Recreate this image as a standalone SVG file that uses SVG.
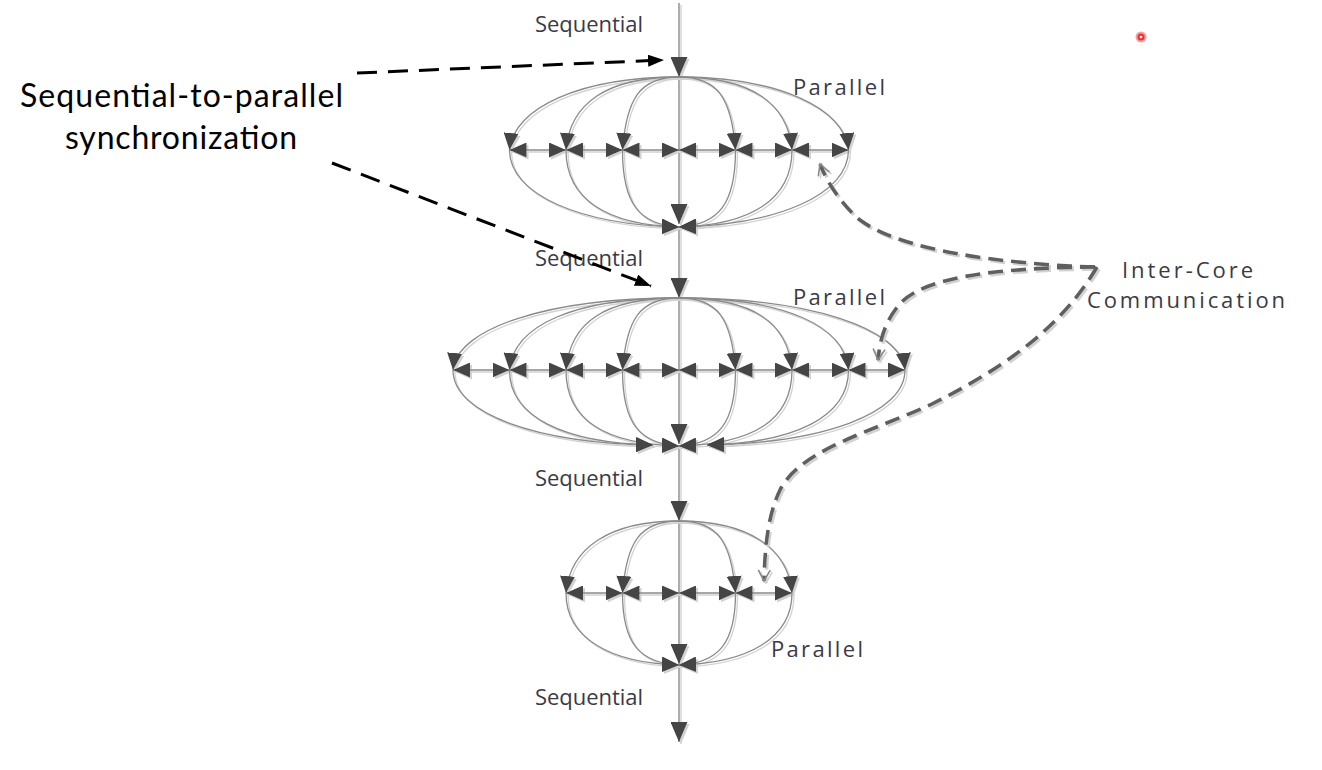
<svg xmlns="http://www.w3.org/2000/svg" width="1322" height="770" viewBox="0 0 1322 770">
<defs>
<style>
.sp{fill:none;stroke:#8a8a8a;stroke-width:1.4;marker-end:url(#sh-ah)}
.arc{fill:none;stroke:#8a8a8a;stroke-width:1.3;marker-end:url(#ah)}
.lo{fill:none;stroke:#8a8a8a;stroke-width:1.3;marker-end:url(#ah)}
.bi{fill:none;stroke:#8a8a8a;stroke-width:1.3;marker-start:url(#ah);marker-end:url(#ah)}
.lbl{font-family:"Open Sans","DejaVu Sans",sans-serif;font-size:22px;fill:#3a3a46}
.ic{font-family:"Open Sans","DejaVu Sans",sans-serif;font-size:22px;fill:#3a3a46}
.big{font-family:Lato,"Open Sans",sans-serif;font-size:32px;fill:#000}
.bd{fill:none;stroke:#000;stroke-width:3;stroke-dasharray:20 11;marker-end:url(#bh)}
.gd{fill:none;stroke:#5f5f5f;stroke-width:3.6;stroke-dasharray:15 8;marker-end:url(#oh)}
</style>
<marker id="ah" viewBox="0 0 17 15" refX="17" refY="7.5" markerWidth="17" markerHeight="15" markerUnits="userSpaceOnUse" orient="auto-start-reverse"><path d="M0,0 L17,7.5 L0,15 z" fill="#444"/></marker>
<marker id="sh-ah" viewBox="0 0 20 17" refX="20" refY="8.5" markerWidth="20" markerHeight="17" markerUnits="userSpaceOnUse" orient="auto"><path d="M0,0 L20,8.5 L0,17 z" fill="#444"/></marker>
<marker id="bh" viewBox="0 0 16 12" refX="16" refY="6" markerWidth="16" markerHeight="12" markerUnits="userSpaceOnUse" orient="auto"><path d="M0,0 L16,6 L0,12 z" fill="#000"/></marker>
<marker id="oh" viewBox="0 0 14 14" refX="12" refY="7" markerWidth="14" markerHeight="14" markerUnits="userSpaceOnUse" orient="auto"><path d="M1,1 L12,7 L1,13" fill="none" stroke="#888" stroke-width="1.6"/></marker>
<filter id="sh" filterUnits="userSpaceOnUse" x="0" y="0" width="1322" height="770"><feOffset in="SourceAlpha" dx="2" dy="2" result="o"/><feFlood flood-color="#d2d2d2"/><feComposite in2="o" operator="in" result="s"/><feMerge><feMergeNode in="s"/><feMergeNode in="SourceGraphic"/></feMerge></filter>
</defs>
<rect width="1322" height="770" fill="#fff"/>

<g id="spine" filter="url(#sh)">
<path class="sp" d="M679,3 V77"/>
<path class="sp" d="M679,77 V224"/>
<path class="sp" d="M679,227 V298"/>
<path class="sp" d="M679,298 V444"/>
<path class="sp" d="M679,446 V521"/>
<path class="sp" d="M679,521 V664"/>
<path class="sp" d="M679,665 V742"/>
</g>

<g id="parallel-1" filter="url(#sh)">
<path class="arc" d="M679,77 C639.45,77 626.5,98.9 622.5,150"/>
<path class="arc" d="M679,77 C606.7,77 570,103.3 566,150"/>
<path class="arc" d="M679,77 C580.7,77 513.5,107.7 509.5,150"/>
<path class="arc" d="M679,77 C718.55,77 731.5,98.9 735.5,150"/>
<path class="arc" d="M679,77 C751.3,77 788,103.3 792,150"/>
<path class="arc" d="M679,77 C777.3,77 844.5,107.7 848.5,150"/>
<path class="lo" d="M622.5,150 C622.5,203.9 639.45,225 679,227"/>
<path class="lo" d="M566,150 C566,199.3 606.7,225 679,227"/>
<path class="lo" d="M509.5,150 C509.5,194.7 580.7,225 679,227"/>
<path class="lo" d="M735.5,150 C735.5,203.9 718.55,225 679,227"/>
<path class="lo" d="M792,150 C792,199.3 751.3,225 679,227"/>
<path class="lo" d="M848.5,150 C848.5,194.7 777.3,225 679,227"/>
<path class="bi" d="M509.5,150 H566"/>
<path class="bi" d="M566,150 H622.5"/>
<path class="bi" d="M622.5,150 H679"/>
<path class="bi" d="M679,150 H735.5"/>
<path class="bi" d="M735.5,150 H792"/>
<path class="bi" d="M792,150 H848.5"/>
</g>

<g id="parallel-2" filter="url(#sh)">
<path class="arc" d="M679,298 C639.45,298 626.5,319.6 622.5,370"/>
<path class="arc" d="M679,298 C604.4,298 570,322.5 566,370"/>
<path class="arc" d="M679,298 C573.9,298 513.5,325.4 509.5,370"/>
<path class="arc" d="M679,298 C547.9,298 457,328.2 453,370"/>
<path class="arc" d="M679,298 C718.55,298 731.5,319.6 735.5,370"/>
<path class="arc" d="M679,298 C753.6,298 788,322.5 792,370"/>
<path class="arc" d="M679,298 C784.1,298 844.5,325.4 848.5,370"/>
<path class="arc" d="M679,298 C810.1,298 901,328.2 905,370"/>
<path class="lo" d="M622.5,370 C622.5,423.2 639.45,444 679,446"/>
<path class="lo" d="M566,370 C566,420.2 604.4,444 679,446"/>
<path class="lo" d="M509.5,370 C509.5,417.1 564,443 653,445"/>
<path class="lo" d="M453,370 C453,414.1 537,443 653,445"/>
<path class="lo" d="M735.5,370 C735.5,423.2 718.55,444 679,446"/>
<path class="lo" d="M792,370 C792,420.2 753.6,444 679,446"/>
<path class="lo" d="M848.5,370 C848.5,417.1 794.7,443 707,445"/>
<path class="lo" d="M905,370 C905,414.1 821.8,443 707,445"/>
<path class="bi" d="M453,370 H509.5"/>
<path class="bi" d="M509.5,370 H566"/>
<path class="bi" d="M566,370 H622.5"/>
<path class="bi" d="M622.5,370 H679"/>
<path class="bi" d="M679,370 H735.5"/>
<path class="bi" d="M735.5,370 H792"/>
<path class="bi" d="M792,370 H848.5"/>
<path class="bi" d="M848.5,370 H905"/>
</g>

<g id="parallel-3" filter="url(#sh)">
<path class="arc" d="M679,521 C639.45,521 626.5,542.6 622.5,593"/>
<path class="arc" d="M679,521 C608.9,521 570,548.4 566,593"/>
<path class="arc" d="M679,521 C718.55,521 731.5,542.6 735.5,593"/>
<path class="arc" d="M679,521 C749.1,521 788,548.4 792,593"/>
<path class="lo" d="M622.5,593 C622.5,643.4 639.45,663 679,665"/>
<path class="lo" d="M566,593 C566,637.6 608.9,663 679,665"/>
<path class="lo" d="M735.5,593 C735.5,643.4 718.55,663 679,665"/>
<path class="lo" d="M792,593 C792,637.6 749.1,663 679,665"/>
<path class="bi" d="M566,593 H622.5"/>
<path class="bi" d="M622.5,593 H679"/>
<path class="bi" d="M679,593 H735.5"/>
<path class="bi" d="M735.5,593 H792"/>
</g>

<g id="labels">
<text class="lbl" x="535" y="32" textLength="108" lengthAdjust="spacing">Sequential</text>
<text class="lbl" x="793" y="95" textLength="92" lengthAdjust="spacing">Parallel</text>
<text class="lbl" x="535" y="266" textLength="108" lengthAdjust="spacing">Sequential</text>
<text class="lbl" x="793" y="305" textLength="92" lengthAdjust="spacing">Parallel</text>
<text class="lbl" x="535" y="486" textLength="108" lengthAdjust="spacing">Sequential</text>
<text class="lbl" x="771" y="657" textLength="92" lengthAdjust="spacing">Parallel</text>
<text class="lbl" x="535" y="705" textLength="108" lengthAdjust="spacing">Sequential</text>
</g>

<g id="sync-label">
<text class="big" x="20" y="107" textLength="323" lengthAdjust="spacing">Sequential-to-parallel</text>
<text class="big" x="65" y="149" textLength="232" lengthAdjust="spacing">synchronization</text>
</g>

<g id="intercore-label">
<text class="ic" x="1122" y="278" textLength="131" lengthAdjust="spacing">Inter-Core</text>
<text class="ic" x="1087" y="308" textLength="198" lengthAdjust="spacing">Communication</text>
</g>

<g id="connectors">
<path class="bd" d="M357,73 L664,60"/>
<path class="bd" d="M332,163 L651,286"/>
<g filter="url(#sh)">
<path class="gd" d="M1095,267 C1000,264 900,250 860,220 C845,208 828,185 820,164"/>
<path class="gd" d="M1095,267 C990,268 920,278 898,306 C884,324 880,340 878,360"/>
<path class="gd" d="M1097,267 C1060,330 1000,370 930,405 C870,432 800,450 780,490 C768,515 765,545 764,581"/>
</g>
</g>

<g id="pointer">
<circle cx="1141" cy="37" r="4.5" fill="#e33" stroke="#f7a0a0" stroke-width="2"/>
<circle cx="1141" cy="37" r="1.3" fill="#fff"/>
</g>
</svg>
